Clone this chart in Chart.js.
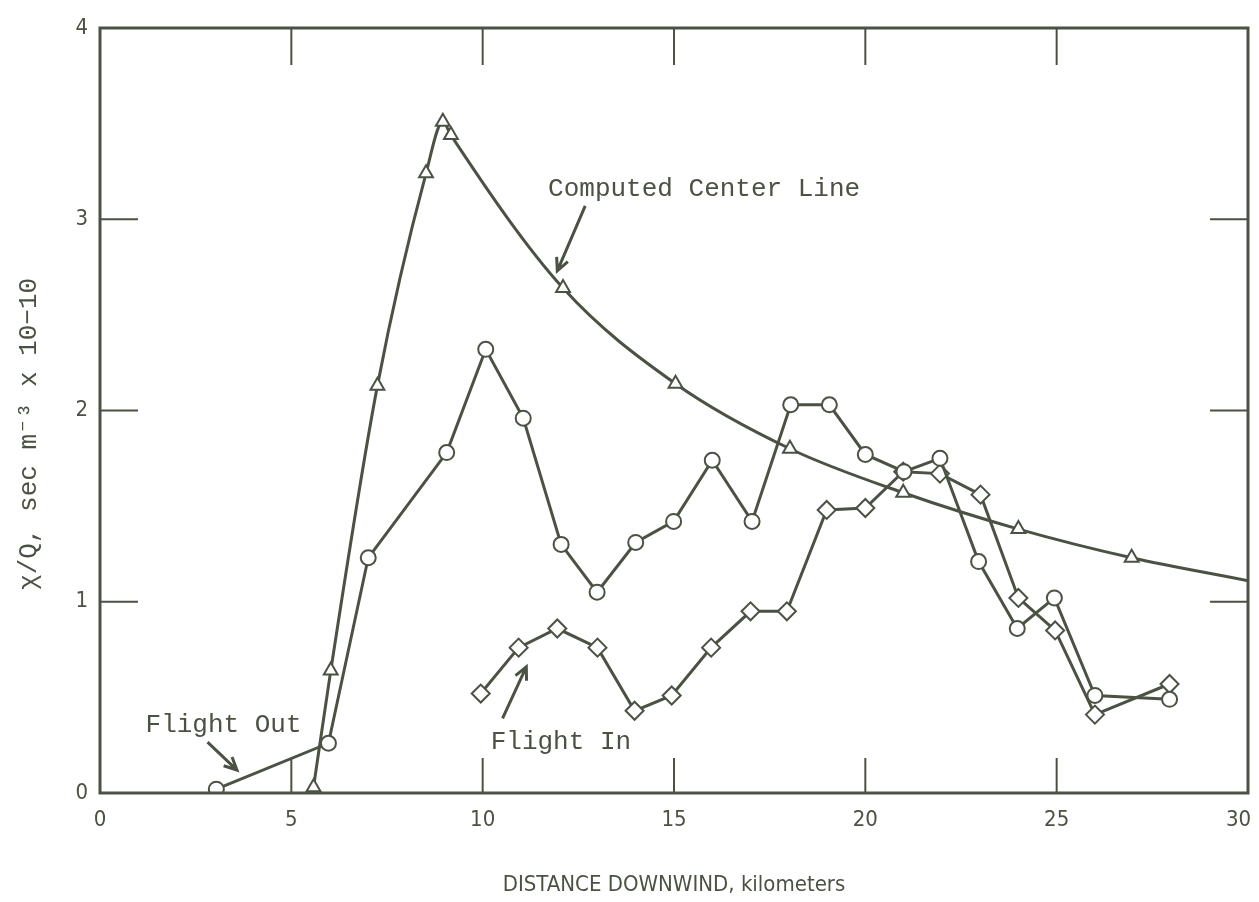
<!DOCTYPE html>
<html>
<head>
<meta charset="utf-8">
<script src="https://cdn.jsdelivr.net/npm/chart.js@4"></script>
<style>
  body { margin: 0; background: #fff; }
</style>
</head>
<body>
<canvas id="grafico" width="1259" height="902"></canvas>
<script>
// valores
const tickKm = [0, 5, 10, 15, 20, 25, 30];
const tickChi = [0, 1, 2, 3, 4];

const centerKm = [5.58, 6.03, 7.25, 8.52, 8.96, 9.17, 12.1, 15.04, 18.03, 20.99, 24.0, 26.96, 30];
const centerChi = [0.03, 0.64, 2.13, 3.24, 3.51, 3.44, 2.64, 2.14, 1.80, 1.57, 1.38, 1.23, 1.11];

const outKm = [3.04, 5.97, 7.01, 9.06, 10.08, 11.06, 12.05, 12.99, 14.0, 14.99, 16.0, 17.04, 18.05, 19.06, 20.0, 21.01, 21.95, 22.96, 23.97, 24.94, 26.0, 27.95];
const outChi = [0.02, 0.26, 1.23, 1.78, 2.32, 1.96, 1.30, 1.05, 1.31, 1.42, 1.74, 1.42, 2.03, 2.03, 1.77, 1.68, 1.75, 1.21, 0.86, 1.02, 0.51, 0.49];

const inKm = [9.95, 10.94, 11.95, 13.0, 13.97, 14.94, 15.97, 17.0, 17.95, 18.99, 20.0, 20.99, 21.95, 23.01, 24.0, 24.96, 26.0, 27.95];
const inChi = [0.52, 0.76, 0.86, 0.76, 0.43, 0.51, 0.76, 0.95, 0.95, 1.48, 1.49, 1.68, 1.67, 1.56, 1.02, 0.85, 0.41, 0.57];

const notas = [
  { text: 'Computed Center Line', x: 11.71, y: 3.16, from: [12.68, 3.07], to: [11.95, 2.73] },
  { text: 'Flight Out', x: 1.19, y: 0.355, from: [2.81, 0.266], to: [3.58, 0.12] },
  { text: 'Flight In', x: 10.21, y: 0.266, from: [10.52, 0.39], to: [11.14, 0.66] }
];

const tinta = '#4b5244';
const mono = '"Liberation Mono", "DejaVu Sans Mono", monospace';
const narrow = '"Liberation Sans Narrow", "DejaVu Sans Condensed", sans-serif';

const puntos = (xs, ys) => xs.map((x, i) => ({ x: x, y: ys[i] }));

const marco = {
  id: 'marco',
  afterDatasetsDraw(chart) {
    const { ctx, chartArea: a, scales } = chart;
    ctx.save();
    ctx.strokeStyle = tinta;
    ctx.fillStyle = tinta;
    ctx.lineWidth = 3;
    ctx.strokeRect(a.left, a.top, a.right - a.left, a.bottom - a.top);

    ctx.lineWidth = 2;
    ctx.beginPath();
    tickKm.slice(1, -1).forEach(v => {
      const px = scales.x.getPixelForValue(v);
      ctx.moveTo(px, a.bottom);
      ctx.lineTo(px, a.bottom - 35);
      ctx.moveTo(px, a.top);
      ctx.lineTo(px, a.top + 37);
    });
    tickChi.slice(1, -1).forEach(v => {
      const py = scales.y.getPixelForValue(v);
      ctx.moveTo(a.left, py);
      ctx.lineTo(a.left + 38, py);
      ctx.moveTo(a.right, py);
      ctx.lineTo(a.right - 38, py);
    });
    ctx.stroke();

    // textos y flechas
    ctx.font = '26px ' + mono;
    ctx.textBaseline = 'middle';
    ctx.textAlign = 'left';
    ctx.lineWidth = 3;
    notas.forEach(n => {
      ctx.fillText(n.text, scales.x.getPixelForValue(n.x), scales.y.getPixelForValue(n.y));
      const x1 = scales.x.getPixelForValue(n.from[0]);
      const y1 = scales.y.getPixelForValue(n.from[1]);
      const x2 = scales.x.getPixelForValue(n.to[0]);
      const y2 = scales.y.getPixelForValue(n.to[1]);
      const ang = Math.atan2(y2 - y1, x2 - x1);
      ctx.beginPath();
      ctx.moveTo(x1, y1);
      ctx.lineTo(x2, y2);
      ctx.moveTo(x2 - 14 * Math.cos(ang - 0.45), y2 - 14 * Math.sin(ang - 0.45));
      ctx.lineTo(x2, y2);
      ctx.lineTo(x2 - 14 * Math.cos(ang + 0.45), y2 - 14 * Math.sin(ang + 0.45));
      ctx.stroke();
    });
    ctx.restore();
  }
};

const serie = (label, data, estilo) => Object.assign({
  label: label,
  data: data,
  borderColor: tinta,
  borderWidth: 3,
  pointBackgroundColor: '#fff',
  pointBorderColor: tinta,
  pointBorderWidth: 2,
  pointRadius: 8,
  showLine: true,
  fill: false
}, estilo);

new Chart(document.getElementById('grafico'), {
  type: 'scatter',
  data: {
    datasets: [
      serie('Computed Center Line', puntos(centerKm, centerChi), {
        pointStyle: 'triangle',
        pointRadius: centerKm.map((x, i) => i === centerKm.length - 1 ? 0 : 8),
        cubicInterpolationMode: 'monotone'
      }),
      serie('Flight Out', puntos(outKm, outChi), { pointStyle: 'circle', pointRadius: 7.5 }),
      serie('Flight In', puntos(inKm, inChi), { pointStyle: 'rectRot', pointRadius: 9 })
    ]
  },
  options: {
    responsive: false,
    animation: false,
    layout: { padding: { top: 28, right: 7, left: 0, bottom: 0 } },
    plugins: {
      legend: { display: false },
      tooltip: { enabled: false }
    },
    scales: {
      x: {
        type: 'linear',
        min: 0,
        max: 30,
        afterBuildTicks: s => { s.ticks = tickKm.map(v => ({ value: v })); },
        afterFit: s => { s.height = 109; s.paddingRight = 0; s.paddingLeft = 0; },
        grid: { display: false, drawTicks: false },
        border: { display: false },
        ticks: {
          color: tinta,
          font: { family: narrow, size: 22 },
          padding: 14,
          maxRotation: 0,
          // el 30 va pegado al borde derecho
          callback: v => v === tickKm[tickKm.length - 1] ? v + '   ' : '' + v
        },
        title: {
          display: true,
          text: 'DISTANCE DOWNWIND, kilometers',
          color: tinta,
          font: { family: narrow, size: 22 },
          padding: { top: 30 }
        }
      },
      y: {
        min: 0,
        max: 4,
        afterBuildTicks: s => { s.ticks = tickChi.map(v => ({ value: v })); },
        afterFit: s => { s.width = 100; s.paddingTop = 0; s.paddingBottom = 0; },
        grid: { display: false, drawTicks: false },
        border: { display: false },
        ticks: { color: tinta, font: { family: narrow, size: 22 }, padding: 12 },
        title: {
          display: true,
          text: 'χ/Q, sec m⁻³ x 10−10   ',
          color: tinta,
          font: { family: mono, size: 26 },
          padding: { top: 14, bottom: 0 }
        }
      }
    }
  },
  plugins: [marco]
});
</script>
</body>
</html>
